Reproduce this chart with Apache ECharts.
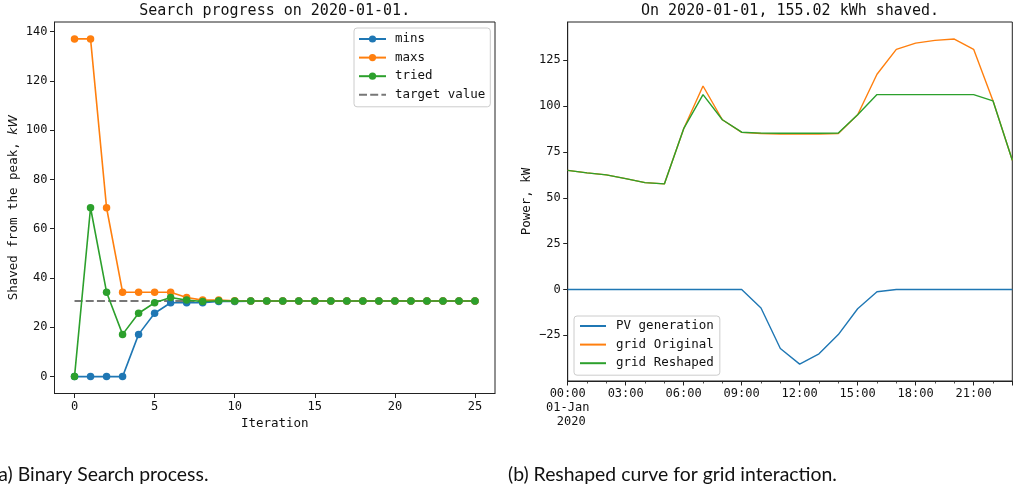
<!DOCTYPE html>
<html>
<head>
<meta charset="utf-8">
<script src="https://cdn.jsdelivr.net/npm/echarts@6/dist/echarts.min.js"></script>
<style>
html,body{margin:0;padding:0;background:#fff;}
#c{width:1014px;height:490px;}
</style>
</head>
<body>
<div id="c"></div>
<script>
// ---- Left chart data (binary search progress) ----
const iterations = [0,1,2,3,4,5,6,7,8,9,10,11,12,13,14,15,16,17,18,19,20,21,22,23,24,25];
const mins  = [0,0,0,0,17.13,25.69,29.97,29.97,29.97,30.5,30.5,30.64,30.64,30.64,30.64,30.64,30.64,30.64,30.64,30.64,30.64,30.64,30.64,30.64,30.64,30.64];
const maxs  = [137,137,68.5,34.25,34.25,34.25,34.25,32.11,31.04,31.04,30.77,30.7,30.67,30.66,30.65,30.65,30.65,30.65,30.65,30.65,30.65,30.65,30.65,30.65,30.65,30.65];
const tried = [0,68.5,34.25,17.13,25.69,29.97,32.11,31.04,30.5,30.77,30.64,30.7,30.67,30.66,30.65,30.65,30.65,30.65,30.65,30.65,30.65,30.65,30.65,30.65,30.65,30.65];
const targetValue = 30.65;
const leftYTicks = [0,20,40,60,80,100,120,140];
const leftXTicks = [0,5,10,15,20,25];

// ---- Right chart data (hourly, 2020-01-01) ----
const hours = [0,1,2,3,4,5,6,7,8,9,10,11,12,13,14,15,16,17,18,19,20,21,22,23];
const pvGeneration = [0,0,0,0,0,0,0,0,0,0,-10.1,-32.2,-40.7,-35.1,-24.6,-10.5,-1.2,0,0,0,0,0,0,0];
const gridOriginal = [65.0,63.6,62.5,60.5,58.3,57.6,87.7,111.0,92.6,85.7,85.1,84.8,84.8,84.8,85.1,95.3,117.4,131.0,134.4,135.9,136.6,131.0,103.0,70.5];
const gridReshaped = [65.0,63.6,62.5,60.5,58.3,57.6,87.7,106.3,92.6,85.8,85.3,85.2,85.2,85.2,85.3,95.3,106.3,106.3,106.3,106.3,106.3,106.3,102.9,70.5];
const rightYTicks = [-25,0,25,50,75,100,125];

const MONO = 'DejaVu Sans Mono';
const C_BLUE = '#1f77b4', C_ORANGE = '#ff7f0e', C_GREEN = '#2ca02c';

const chart = echarts.init(document.getElementById('c'), null, {renderer:'canvas'});

const axisCommon = {
  axisLine: {show:true, onZero:false, lineStyle:{color:'#222', width:1}},
  axisTick: {show:true, inside:false, length:4.5, lineStyle:{color:'#222', width:1}},
  axisLabel: {color:'#111', fontFamily:MONO, fontSize:12, margin:7},
  splitLine: {show:false}
};

function pairs(xs, ys){ return xs.map((x,i)=>[x, ys[i]]); }

const noSymbol = {opacity:0, color:'transparent', borderWidth:0};

const option = {
  animation: false,
  backgroundColor: '#fff',
  textStyle: {fontFamily: MONO},
  grid: [
    {left:54.5, top:22, width:440.5, height:371.5, show:true, borderColor:'#222', borderWidth:1, containLabel:false},
    {left:567.7, top:22, width:444.6, height:359, show:true, borderColor:'#222', borderWidth:1, containLabel:false}
  ],
  xAxis: [
    Object.assign({}, axisCommon, {
      type:'value', gridIndex:0, min:-1.25, max:26.25,
      axisTick: Object.assign({}, axisCommon.axisTick, {customValues:leftXTicks}),
      axisLabel: Object.assign({}, axisCommon.axisLabel, {customValues:leftXTicks}),
      name:'Iteration', nameLocation:'middle', nameGap:22,
      nameTextStyle:{fontFamily:MONO, fontSize:12.5, color:'#111'}
    }),
    Object.assign({}, axisCommon, {
      type:'value', gridIndex:1, min:0, max:23, interval:3,
      minorTick:{show:true, splitNumber:3, length:2.5, lineStyle:{color:'#222', width:0.8}},
      axisLabel: Object.assign({}, axisCommon.axisLabel, {
        showMaxLabel:false, margin:6, lineHeight:14, verticalAlign:'top',
        formatter: v => v === 0 ? '00:00\n01-Jan\n 2020' : (String(v).padStart(2,'0') + ':00')
      })
    })
  ],
  yAxis: [
    Object.assign({}, axisCommon, {
      type:'value', gridIndex:0, min:-6.85, max:143.85,
      axisTick: Object.assign({}, axisCommon.axisTick, {customValues:leftYTicks}),
      axisLabel: Object.assign({}, axisCommon.axisLabel, {customValues:leftYTicks}),
      name:'Shaved from the peak, {i|kW}', nameLocation:'middle', nameGap:34, nameRotate:90,
      nameTextStyle:{fontFamily:MONO, fontSize:12.5, color:'#111',
        rich:{i:{fontFamily:'DejaVu Sans', fontStyle:'italic', fontSize:12.5, color:'#111'}}}
    }),
    Object.assign({}, axisCommon, {
      type:'value', gridIndex:1, min:-49.9, max:145.9,
      axisTick: Object.assign({}, axisCommon.axisTick, {customValues:rightYTicks}),
      axisLabel: Object.assign({}, axisCommon.axisLabel, {customValues:rightYTicks,
        formatter: v => v < 0 ? '\u2212' + Math.abs(v) : String(v)}),
      name:'Power, kW', nameLocation:'middle', nameGap:34, nameRotate:90,
      nameTextStyle:{fontFamily:MONO, fontSize:12.5, color:'#111'}
    })
  ],
  legend: [
    {
      left:354, top:28, orient:'vertical',
      data:[{name:'mins'},{name:'maxs'},{name:'tried'},{name:'target value', itemStyle:noSymbol}],
      itemWidth:27, itemHeight:9, itemGap:4.6,
      textStyle:{fontFamily:MONO, fontSize:12.5, color:'#111', lineHeight:14, padding:[0,0,0,4]},
      backgroundColor:'rgba(255,255,255,0.8)', borderColor:'#ccc', borderWidth:1, borderRadius:3,
      padding:[4,5,5,4]
    },
    {
      left:574, top:316, orient:'vertical',
      data:[{name:'PV generation'},{name:'grid Original'},{name:'grid Reshaped'}],
      itemStyle: noSymbol,
      itemWidth:26, itemHeight:9, itemGap:4.6,
      textStyle:{fontFamily:MONO, fontSize:12.5, color:'#111', lineHeight:14, padding:[0,0,0,5]},
      backgroundColor:'rgba(255,255,255,0.8)', borderColor:'#ccc', borderWidth:1, borderRadius:3,
      padding:[3,6,5,5]
    }
  ],
  series: [
    {name:'target value', type:'line', xAxisIndex:0, yAxisIndex:0, z:1,
     data: pairs([iterations[0], iterations[iterations.length-1]], [targetValue, targetValue]),
     symbol:'none', lineStyle:{color:'#777', width:2, type:[8,3.2]}, itemStyle:{color:'#777'}},
    {name:'mins', type:'line', xAxisIndex:0, yAxisIndex:0, z:2,
     data: pairs(iterations, mins), symbol:'circle', symbolSize:7.5,
     lineStyle:{color:C_BLUE, width:1.6}, itemStyle:{color:C_BLUE}},
    {name:'maxs', type:'line', xAxisIndex:0, yAxisIndex:0, z:3,
     data: pairs(iterations, maxs), symbol:'circle', symbolSize:7.5,
     lineStyle:{color:C_ORANGE, width:1.6}, itemStyle:{color:C_ORANGE}},
    {name:'tried', type:'line', xAxisIndex:0, yAxisIndex:0, z:4,
     data: pairs(iterations, tried), symbol:'circle', symbolSize:7.5,
     lineStyle:{color:C_GREEN, width:1.6}, itemStyle:{color:C_GREEN}},

    {name:'PV generation', type:'line', xAxisIndex:1, yAxisIndex:1, z:2,
     data: pairs(hours, pvGeneration), symbol:'none', showSymbol:false,
     lineStyle:{color:C_BLUE, width:1.4}, itemStyle:{color:C_BLUE}},
    {name:'grid Original', type:'line', xAxisIndex:1, yAxisIndex:1, z:3,
     data: pairs(hours, gridOriginal), symbol:'none', showSymbol:false,
     lineStyle:{color:C_ORANGE, width:1.4}, itemStyle:{color:C_ORANGE}},
    {name:'grid Reshaped', type:'line', xAxisIndex:1, yAxisIndex:1, z:4,
     data: pairs(hours, gridReshaped), symbol:'none', showSymbol:false,
     lineStyle:{color:C_GREEN, width:1.4}, itemStyle:{color:C_GREEN}}
  ],
  graphic: [
    {type:'text', x:274.7, y:4, style:{text:'Search progress on 2020-01-01.', font:'15px "DejaVu Sans Mono"', fill:'#111', align:'center', verticalAlign:'top'}},
    {type:'text', x:790, y:4, style:{text:'On 2020-01-01, 155.02 kWh shaved.', font:'15px "DejaVu Sans Mono"', fill:'#111', align:'center', verticalAlign:'top'}},
    {type:'text', x:-6.5, y:475, style:{text:'(a) Binary Search process.', font:'19.4px Lato', fill:'#111', align:'left', verticalAlign:'middle'}},
    {type:'text', x:508, y:475, style:{text:'(b) Reshaped curve for grid interaction.', font:'19.4px Lato', fill:'#111', align:'left', verticalAlign:'middle'}}
  ]
};
chart.setOption(option);
</script>
</body>
</html>
